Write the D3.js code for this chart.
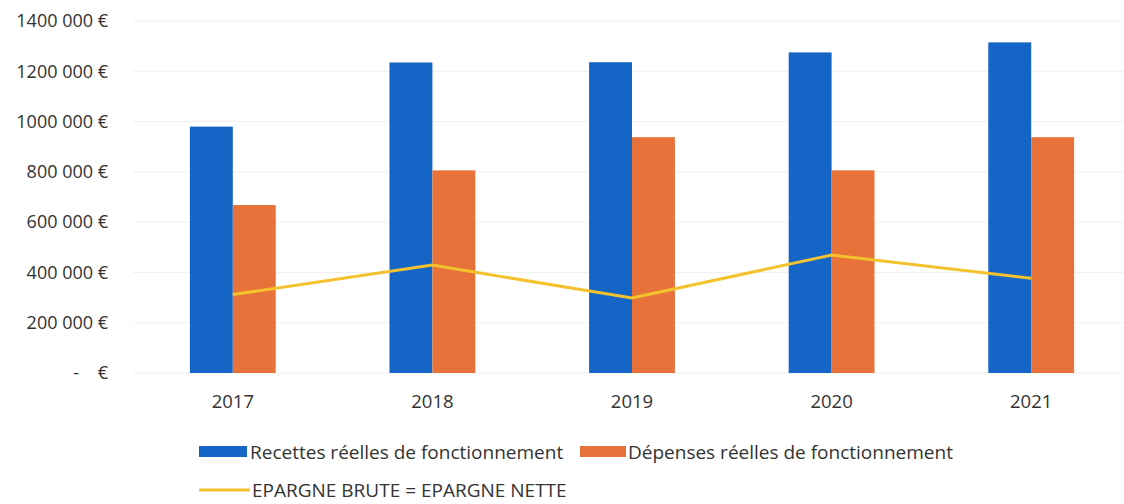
<!DOCTYPE html>
<html>
<head>
<meta charset="utf-8">
<script src="https://cdn.jsdelivr.net/npm/d3@7"></script>
<style>
  html, body { margin: 0; padding: 0; background: #fff; }
  svg { display: block; font-family: "Open Sans", "Noto Sans", sans-serif; }
</style>
</head>
<body>
<svg id="chart" width="1124" height="504"></svg>
<script>
// Budget de fonctionnement, 2017-2021
const years = ["2017", "2018", "2019", "2020", "2021"];
const recettes = [980000, 1235000, 1236000, 1275000, 1315000];
const depenses = [668000, 806000, 938000, 806000, 938000];
const epargne = [312000, 429000, 298000, 469000, 377000];
const yTicks = [0, 200000, 400000, 600000, 800000, 1000000, 1200000, 1400000];
const seriesNames = ["Recettes réelles de fonctionnement", "Dépenses réelles de fonctionnement", "EPARGNE BRUTE = EPARGNE NETTE"];

const colors = { recettes: "#1565c6", depenses: "#e8733a", epargne: "#f3c22c" };

const svg = d3.select("#chart");
const plot = { left: 133, right: 1131, top: 21, bottom: 373 };

const x = d3.scaleBand().domain(years).range([plot.left, plot.right])
  .paddingInner(0.57).paddingOuter(0.285);
const xCenter = d => x(d) + x.bandwidth() / 2;
const half = x.bandwidth() / 2;

const y = d3.scaleLinear().domain([0, 1400000]).range([plot.bottom, plot.top]);

// faint horizontal gridlines
svg.append("g").selectAll("line").data(yTicks).join("line")
  .attr("x1", plot.left).attr("x2", plot.right)
  .attr("y1", d => y(d)).attr("y2", d => y(d))
  .attr("stroke", "#efefef").attr("stroke-width", 1);

// y axis labels (accounting-style euro format)
const fmtEuro = v => {
  if (v === 0) return "-    €";
  const th = Math.floor(v / 1000);
  return th + " 000 €";
};
const yAxis = svg.append("g")
  .attr("transform", `translate(${108},0)`)
  .call(d3.axisLeft(y).tickValues(yTicks).tickFormat(fmtEuro).tickSize(0).tickPadding(0));
yAxis.select(".domain").remove();
yAxis.selectAll("text")
  .style("white-space", "pre")
  .attr("font-size", 18).attr("fill", "#333")
  .attr("font-family", "'Open Sans', sans-serif");

// x axis labels
const xAxis = svg.append("g")
  .attr("transform", `translate(0,${plot.bottom})`)
  .call(d3.axisBottom(x).tickSize(0).tickPadding(22));
xAxis.select(".domain").remove();
xAxis.selectAll("text")
  .attr("font-size", 18.5).attr("fill", "#333")
  .attr("font-family", "'Open Sans', sans-serif");

// bars
svg.append("g").selectAll("rect").data(years).join("rect")
  .attr("x", d => x(d))
  .attr("width", half)
  .attr("y", (d, i) => y(recettes[i]))
  .attr("height", (d, i) => y(0) - y(recettes[i]))
  .attr("fill", colors.recettes);

svg.append("g").selectAll("rect").data(years).join("rect")
  .attr("x", d => x(d) + half)
  .attr("width", half)
  .attr("y", (d, i) => y(depenses[i]))
  .attr("height", (d, i) => y(0) - y(depenses[i]))
  .attr("fill", colors.depenses);

// savings line
const line = d3.line().x((d, i) => xCenter(years[i])).y(d => y(d));
svg.append("path").datum(epargne)
  .attr("d", line)
  .attr("fill", "none")
  .attr("stroke", colors.epargne)
  .attr("stroke-width", 3);

// legend
const legend = svg.append("g").attr("font-size", 19).attr("fill", "#333")
  .attr("font-family", "'Open Sans', sans-serif");
const l1 = legend.append("g");
l1.append("rect").attr("x", 199).attr("y", 446).attr("width", 48).attr("height", 11).attr("fill", colors.recettes);
l1.append("text").attr("x", 250).attr("y", 459).text(seriesNames[0]);
const l2 = legend.append("g");
l2.append("rect").attr("x", 580).attr("y", 446).attr("width", 46).attr("height", 11).attr("fill", colors.depenses);
l2.append("text").attr("x", 628).attr("y", 459).text(seriesNames[1]);
const l3 = legend.append("g");
l3.append("line").attr("x1", 199).attr("x2", 250).attr("y1", 490).attr("y2", 490)
  .attr("stroke", colors.epargne).attr("stroke-width", 3);
l3.append("text").attr("x", 252).attr("y", 497).text(seriesNames[2]);
</script>
</body>
</html>
